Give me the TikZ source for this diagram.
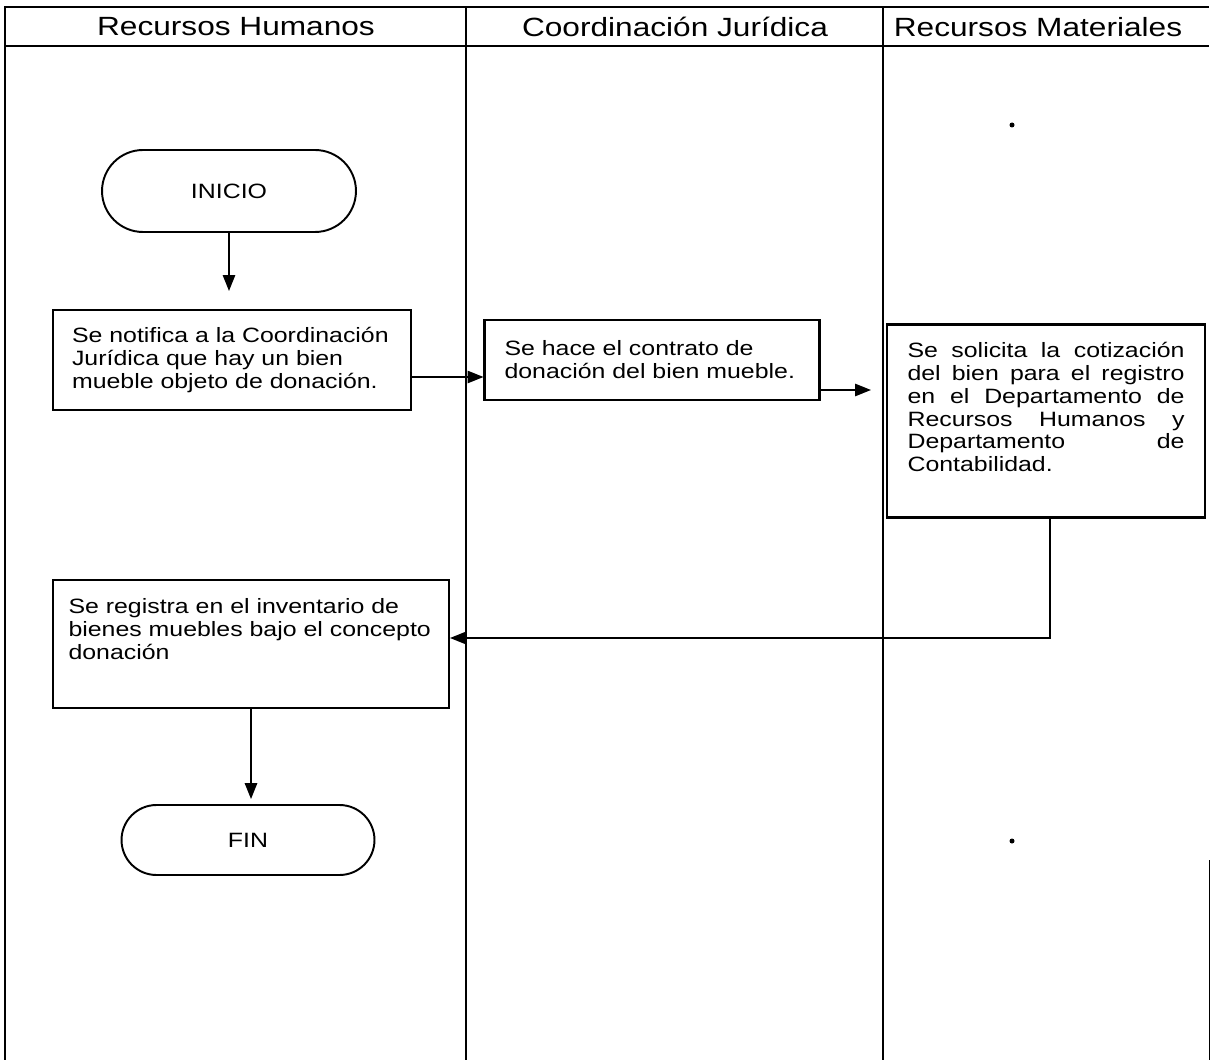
\documentclass[tikz,border=0pt]{standalone}
\usepackage{fontspec}
\setmainfont{Liberation Sans}[FakeStretch=1.2]
\usetikzlibrary{arrows.meta,shapes.misc}

\tikzset{
  lane/.style={line width=1.3pt},
  lanetitle/.style={font=\fontsize{15}{17}\selectfont},
  proc/.style={draw, line width=1.2pt, align=left, inner sep=0pt,
    font=\fontsize{11.8}{13}\selectfont},
  term/.style={draw, line width=1.1pt, rounded rectangle, inner sep=0pt,
    font=\fontsize{11.8}{13}\selectfont},
  flow/.style={->, line width=0.9pt}
}

\begin{document}
\begin{tikzpicture}[x=0.02cm, y=-0.02cm, >={Triangle[length=9pt,width=7pt]}]
  \useasboundingbox (0,0) rectangle (1212,1060);

  % Swimlanes
  \draw[lane] (5,1060) -- (5,7) -- (1209,7);
  \draw[lane] (5,46) -- (1209,46);
  \draw[lane] (466,7) -- (466,1060);
  \draw[lane] (883,7) -- (883,1060);
  \draw[thin] (1209,860) -- (1209,1060);
  \node[lanetitle] (rh) at (236,27) {Recursos Humanos};
  \node[lanetitle] (cj) at (675,27) {Coordinación Jurídica};
  \node[lanetitle] (rm) at (1038,27) {Recursos Materiales};

  % Steps
  \node[term, minimum width=5.08cm, minimum height=1.64cm] (inicio) at (229,191) {INICIO};
  \node[proc, text width=6.4cm, minimum width=7.16cm, minimum height=2cm] (notifica) at (232,360)
    {Se notifica a la Coordinación\\ Jurídica que hay un bien\\ mueble objeto de donación.};
  \node[proc, text width=5.9cm, minimum width=6.7cm, minimum height=1.6cm] (contrato) at (652,360)
    {Se hace el contrato de\\ donación del bien mueble.};
  \node[proc, align=justify, text width=5.54cm, minimum width=6.36cm, minimum height=3.86cm] (cotiza) at (1046,421)
    {Se solicita la cotización\linebreak del bien para el registro\linebreak en el Departamento de\linebreak
     Recursos Humanos y\linebreak Departamento de\linebreak Contabilidad.\\[0.1cm]};
  \node[proc, text width=7.3cm, minimum width=7.92cm, minimum height=2.56cm] (registro) at (251,644)
    {Se registra en el inventario de\\ bienes muebles bajo el concepto\\ donación\\[0.14cm]\mbox{}};
  \node[term, minimum width=5.06cm, minimum height=1.4cm] (fin) at (248,840) {FIN};

  % Marks
  \fill (1012,125) circle (0.05cm);
  \fill (1012,841) circle (0.05cm);

  % Flow
  \draw[flow, shorten >=0.36cm] (inicio.south) -- (inicio.south |- notifica.north);
  \draw[flow] ([yshift=-0.34cm]notifica.east) -- ([yshift=-0.34cm]notifica.east -| contrato.west);
  \draw[flow, shorten >=0.3cm] ([yshift=-0.6cm]contrato.east) -- ([yshift=-0.6cm]contrato.east -| cotiza.west);
  \draw[flow] ([xshift=0.08cm]cotiza.south) |- ([yshift=0.12cm]registro.east);
  \draw[flow, shorten >=0.1cm] (registro.south) -- (registro.south |- fin.north);
\end{tikzpicture}
\end{document}
